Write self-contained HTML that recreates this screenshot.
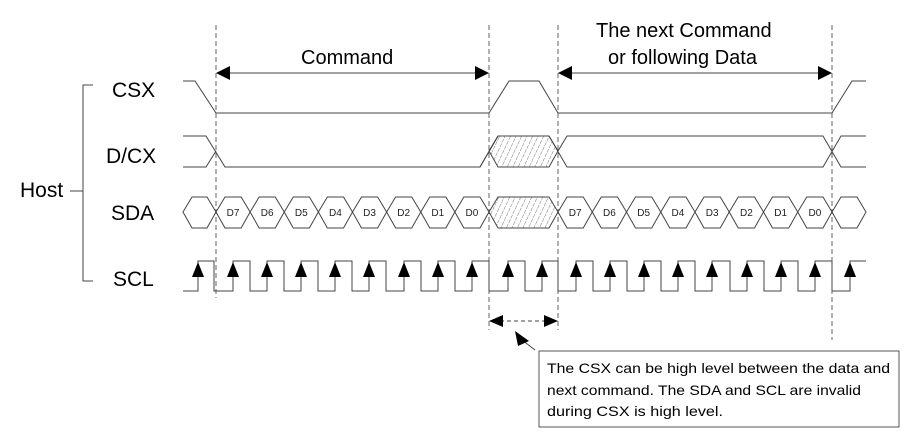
<!DOCTYPE html>
<html><head><style>body{margin:0;background:#fff}svg{display:block}</style></head><body>
<svg width="915" height="438" viewBox="0 0 915 438" xmlns="http://www.w3.org/2000/svg" font-family="'Liberation Sans', sans-serif">
<defs>
<pattern id="h" width="5" height="5" patternUnits="userSpaceOnUse" patternTransform="rotate(25)"><line x1="0" y1="0" x2="0" y2="5" stroke="#555" stroke-width="0.8" stroke-dasharray="2,1"/></pattern>
</defs>
<g stroke="#444" stroke-width="1" fill="none">
<g stroke-dasharray="5,3" stroke="#666">
<line x1="216" y1="25" x2="216" y2="298"/>
<line x1="489" y1="25" x2="489" y2="330"/>
<line x1="558" y1="25" x2="558" y2="330"/>
<line x1="832" y1="25" x2="832" y2="340"/>
</g>
<path d="M93 85 H83 V281 H93 M70 191 H83"/>
<line x1="226" y1="73" x2="479" y2="73"/>
<line x1="568" y1="73" x2="822" y2="73"/>
<path d="M183 81 H195 L216 113 H489 L509 81 H539 L558 113 H832 L852 81 H866"/>
<path d="M183 136 H206 L225 167 H480 L498 136 H549 L567 167 H823 L841 136 H866"/>
<path d="M183 167 H206 L216 151"/>
<path d="M480 167 L498 136 M558 151 L567 136 H823 L841 167 H866"/>
<path d="M489 151 L498 136 H549 L558 151 L549 167 H498 Z" fill="url(#h)"/>
<path d="M183 212 L192 197 H207 L216 212 L207 228 H192 Z"/>
<path d="M832 212 L841 197 H857 L866 212 L857 228 H841 Z"/>
<path d="M489 212 L498 197 H549 L558 212 L549 228 H498 Z" fill="url(#h)"/>
</g>
<g fill="#000">
<polygon points="216,73 230,66 230,80"/><polygon points="489,73 475,66 475,80"/>
<polygon points="558,73 572,66 572,80"/><polygon points="832,73 818,66 818,80"/>
</g>
<line x1="500" y1="321" x2="547" y2="321" stroke="#444" stroke-dasharray="4,3"/>
<polygon points="489,321 503,315 503,327" fill="#000"/><polygon points="558,321 544,315 544,327" fill="#000"/>
<line x1="535" y1="350" x2="522" y2="340" stroke="#444"/>
<polygon points="515,331 529,341 518,346" fill="#000"/>
<rect x="539" y="351" width="360" height="76" fill="#fff" stroke="#555"/>
<g font-size="14" fill="#000">
<text x="547" y="373" textLength="343" lengthAdjust="spacingAndGlyphs">The CSX can be high level between the data and</text>
<text x="547" y="395" textLength="314" lengthAdjust="spacingAndGlyphs">next command. The SDA and SCL are invalid</text>
<text x="547" y="416" textLength="176" lengthAdjust="spacingAndGlyphs">during CSX is high level.</text>
</g>
<g font-size="20" fill="#000">
<text x="301" y="64">Command</text>
<text x="596" y="37">The next Command</text>
<text x="608" y="64">or following Data</text>
<text x="112" y="97" font-size="21">CSX</text>
<text x="106" y="163" font-size="21">D/CX</text>
<text x="111" y="220" font-size="21">SDA</text>
<text x="113" y="286" font-size="21">SCL</text>
<text x="20" y="197" font-size="21">Host</text>
</g>
<g id="gen"></g>
<script>
var ns="http://www.w3.org/2000/svg",g=document.getElementById("gen");
function el(t,a,txt){var e=document.createElementNS(ns,t);for(var k in a)e.setAttribute(k,a[k]);if(txt)e.textContent=txt;g.appendChild(e);return e;}
var labs=["D7","D6","D5","D4","D3","D2","D1","D0"];
function cells(x0,w){for(var i=0;i<8;i++){var a=x0+i*w,b=a+w;
el("path",{d:"M"+a+" 212 L"+(a+9)+" 197 H"+(b-9)+" L"+b+" 212 L"+(b-9)+" 228 H"+(a+9)+" Z",stroke:"#444",fill:"none"});
el("text",{x:(a+b)/2,y:216,"font-size":"10","text-anchor":"middle",fill:"#222"},labs[i]);}}
cells(216,34.125);cells(558,34.25);
var seq=[[198,214],[233,250],[267,284],[301,318],[335,352],[369,386],[404,421],[438,455],[472,489],[508,525],[542,558],[576,593],[610,627],[644,661],[678,695],[712,730],[747,764],[781,798],[815,832],[850,866]];
var d="M183 291";seq.forEach(function(s){d+=" H"+s[0]+" V261 H"+s[1]+(s[1]<866?" V291":"");});
el("path",{d:d,stroke:"#444",fill:"none"});
seq.forEach(function(s){var x=s[0];el("polygon",{points:x+",262 "+(x-6)+",277 "+(x+6)+",277",fill:"#000"});});
</script>
</svg>
</body></html>
